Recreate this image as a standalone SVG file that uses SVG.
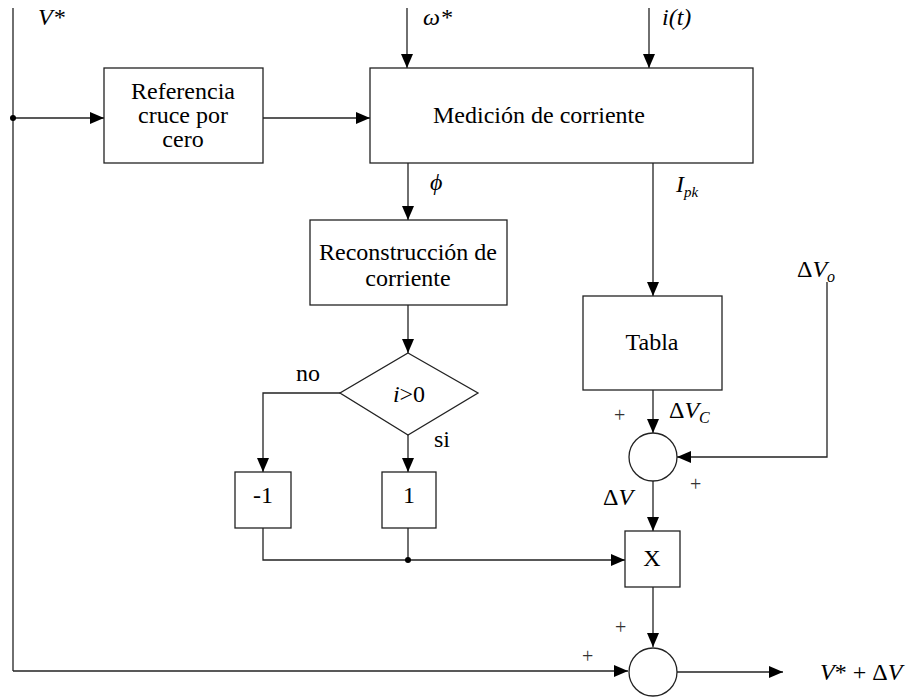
<svg xmlns="http://www.w3.org/2000/svg" width="909" height="698" viewBox="0 0 909 698" font-family="'Liberation Serif', 'DejaVu Serif', serif">
<style>
.b{fill:#fff;stroke:#222;stroke-width:1.3}
.c{fill:none;stroke:#222;stroke-width:1.3}
.t{font-family:'Liberation Serif','DejaVu Serif',serif;font-size:24px;text-anchor:middle;fill:#000}
.l{font-family:'Liberation Serif','DejaVu Serif',serif;font-size:24px;fill:#000}
.i{font-style:italic}
.p{font-family:'Liberation Serif','DejaVu Serif',serif;font-size:20px;fill:#333}
</style>
<defs>
<marker id="a" viewBox="0 0 14 12" refX="14" refY="6" markerWidth="14" markerHeight="12" markerUnits="userSpaceOnUse" orient="auto">
<path d="M0,0 L14,6 L0,12 Z" fill="#000"/>
</marker>
</defs>
<g id="connectors">
<line class="c" x1="13" y1="8" x2="13" y2="671"/>
<line class="c" x1="13" y1="118" x2="104" y2="118" marker-end="url(#a)"/>
<circle cx="13" cy="118" r="3" fill="#000"/>
<line class="c" x1="263" y1="118" x2="370" y2="118" marker-end="url(#a)"/>
<line class="c" x1="407" y1="8" x2="407" y2="68" marker-end="url(#a)"/>
<line class="c" x1="649" y1="8" x2="649" y2="68" marker-end="url(#a)"/>
<line class="c" x1="408" y1="163" x2="408" y2="220" marker-end="url(#a)"/>
<line class="c" x1="653" y1="163" x2="653" y2="296" marker-end="url(#a)"/>
<line class="c" x1="408" y1="305" x2="408" y2="353" marker-end="url(#a)"/>
<polyline class="c" points="340,393 263,393 263,472" marker-end="url(#a)"/>
<line class="c" x1="408" y1="435" x2="408" y2="472" marker-end="url(#a)"/>
<polyline class="c" points="263,528 263,560 625,560" marker-end="url(#a)"/>
<line class="c" x1="408" y1="528" x2="408" y2="560"/>
<circle cx="408" cy="560" r="3" fill="#000"/>
<line class="c" x1="653" y1="390" x2="653" y2="433" marker-end="url(#a)"/>
<polyline class="c" points="827,282 827,457 677,457" marker-end="url(#a)"/>
<line class="c" x1="653" y1="481" x2="653" y2="531" marker-end="url(#a)"/>
<line class="c" x1="653" y1="587" x2="653" y2="647" marker-end="url(#a)"/>
<line class="c" x1="13" y1="671" x2="628" y2="671" marker-end="url(#a)"/>
<line class="c" x1="677" y1="672" x2="783" y2="672" marker-end="url(#a)"/>
</g>
<g id="ref">
<rect class="b" x="104" y="68" width="159" height="95"/>
<text class="t" x="183" y="99">Referencia</text>
<text class="t" x="183" y="123">cruce por</text>
<text class="t" x="183" y="147">cero</text>
</g>
<g id="med">
<rect class="b" x="370" y="68" width="383" height="95"/>
<text class="t" x="539" y="123">Medición de corriente</text>
</g>
<g id="rec">
<rect class="b" x="310" y="220" width="197" height="85"/>
<text class="t" x="408" y="260">Reconstrucción de</text>
<text class="t" x="408" y="286">corriente</text>
</g>
<g id="tabla">
<rect class="b" x="583" y="296" width="139" height="94"/>
<text class="t" x="652" y="350">Tabla</text>
</g>
<g id="dec">
<polygon class="b" points="408,353 478,393 408,435 340,393"/>
<text class="t" x="409" y="402"><tspan class="i">i</tspan>&gt;0</text>
</g>
<g id="neg">
<rect class="b" x="235" y="472" width="56" height="56"/>
<text class="t" x="263" y="503">-1</text>
</g>
<g id="pos">
<rect class="b" x="382" y="472" width="54" height="56"/>
<text class="t" x="409" y="503">1</text>
</g>
<g id="mul">
<rect class="b" x="625" y="531" width="55" height="56"/>
<text class="t" x="652" y="566">X</text>
</g>
<g id="sum1">
<circle class="b" cx="653" cy="457" r="24"/>
</g>
<g id="sum2">
<circle class="b" cx="653" cy="672" r="24"/>
</g>
<g id="labels">
<text class="l i" x="38" y="25">V*</text>
<text class="l i" x="423" y="25">ω*</text>
<text class="l i" x="662" y="25">i(t)</text>
<text class="l i" x="430" y="190">ϕ</text>
<text class="l" x="676" y="192"><tspan class="i">I</tspan><tspan class="i" font-size="15" dy="5">pk</tspan></text>
<text class="l" x="296" y="381">no</text>
<text class="l" x="434" y="447">si</text>
<text class="l" x="797" y="277">Δ<tspan class="i">V</tspan><tspan class="i" font-size="16" dy="5">o</tspan></text>
<text class="l" x="669" y="418">Δ<tspan class="i">V</tspan><tspan class="i" font-size="16" dy="5">C</tspan></text>
<text class="l" x="603" y="505">Δ<tspan class="i">V</tspan></text>
<text class="p" x="614" y="422">+</text>
<text class="p" x="690" y="491">+</text>
<text class="p" x="615" y="634">+</text>
<text class="p" x="582" y="663">+</text>
<text class="l" x="820" y="680"><tspan class="i">V</tspan>* + Δ<tspan class="i">V</tspan></text>
</g>
</svg>
